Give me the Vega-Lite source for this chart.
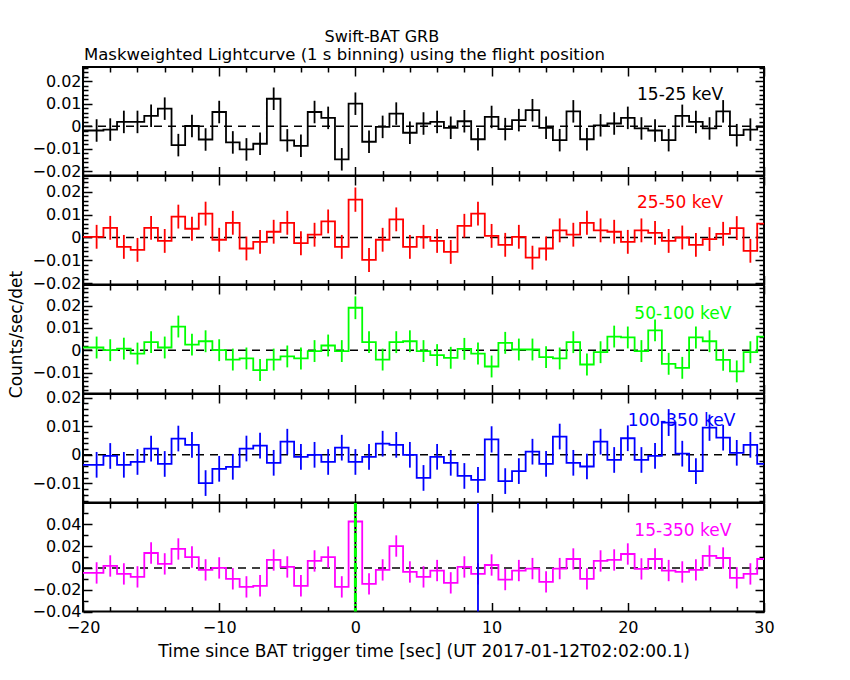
{
  "$schema": "https://vega.github.io/schema/vega-lite/v6.json",
  "autosize": {"type": "pad"},
  "padding": {"left": 6, "top": 28, "right": 5, "bottom": 5},
  "background": "white",
  "title": {"text": "Swift-BAT GRB", "anchor": "middle", "frame": "bounds", "offset": 1.5, "dx": -9, "fontSize": 16},
  "datasets": {
    "lc": [
      {"b":1,"t":-20,"r":-0.0019,"e":0.005},{"b":1,"t":-19,"r":-0.0019,"e":0.005},{"b":1,"t":-18,"r":-0.0015,"e":0.005},{"b":1,"t":-17,"r":0.0019,"e":0.005},{"b":1,"t":-16,"r":0.0019,"e":0.005},{"b":1,"t":-15,"r":0.0046,"e":0.005},{"b":1,"t":-14,"r":0.0078,"e":0.005},{"b":1,"t":-13,"r":-0.0084,"e":0.005},{"b":1,"t":-12,"r":0.0001,"e":0.005},{"b":1,"t":-11,"r":-0.0059,"e":0.005},
      {"b":1,"t":-10,"r":0.0063,"e":0.005},{"b":1,"t":-9,"r":-0.0072,"e":0.005},{"b":1,"t":-8,"r":-0.0103,"e":0.005},{"b":1,"t":-7,"r":-0.0078,"e":0.005},{"b":1,"t":-6,"r":0.0122,"e":0.005},{"b":1,"t":-5,"r":-0.0063,"e":0.005},{"b":1,"t":-4,"r":-0.0087,"e":0.005},{"b":1,"t":-3,"r":0.0063,"e":0.005},{"b":1,"t":-2,"r":0.0037,"e":0.005},{"b":1,"t":-1,"r":-0.0147,"e":0.005},
      {"b":1,"t":0,"r":0.0100,"e":0.005},{"b":1,"t":1,"r":-0.0069,"e":0.005},{"b":1,"t":2,"r":-0.0003,"e":0.005},{"b":1,"t":3,"r":0.0056,"e":0.005},{"b":1,"t":4,"r":-0.0029,"e":0.005},{"b":1,"t":5,"r":0.0012,"e":0.005},{"b":1,"t":6,"r":0.0019,"e":0.005},{"b":1,"t":7,"r":-0.0007,"e":0.005},{"b":1,"t":8,"r":0.0022,"e":0.005},{"b":1,"t":9,"r":-0.0058,"e":0.005},
      {"b":1,"t":10,"r":0.0041,"e":0.005},{"b":1,"t":11,"r":-0.0013,"e":0.005},{"b":1,"t":12,"r":0.0027,"e":0.005},{"b":1,"t":13,"r":0.0071,"e":0.005},{"b":1,"t":14,"r":-0.0007,"e":0.005},{"b":1,"t":15,"r":-0.0062,"e":0.005},{"b":1,"t":16,"r":0.0066,"e":0.005},{"b":1,"t":17,"r":-0.0058,"e":0.005},{"b":1,"t":18,"r":0.0004,"e":0.005},{"b":1,"t":19,"r":0.0012,"e":0.005},
      {"b":1,"t":20,"r":0.0037,"e":0.005},{"b":1,"t":21,"r":-0.0010,"e":0.005},{"b":1,"t":22,"r":-0.0019,"e":0.005},{"b":1,"t":23,"r":-0.0062,"e":0.005},{"b":1,"t":24,"r":0.0046,"e":0.005},{"b":1,"t":25,"r":0.0019,"e":0.005},{"b":1,"t":26,"r":-0.0010,"e":0.005},{"b":1,"t":27,"r":0.0066,"e":0.005},{"b":1,"t":28,"r":-0.0040,"e":0.005},{"b":1,"t":29,"r":-0.0015,"e":0.005},{"b":1,"t":30,"r":-0.0003,"e":0.005},

      {"b":2,"t":-20,"r":0.0003,"e":0.0052},{"b":2,"t":-19,"r":0.0003,"e":0.0052},{"b":2,"t":-18,"r":0.0042,"e":0.0052},{"b":2,"t":-17,"r":-0.0041,"e":0.0052},{"b":2,"t":-16,"r":-0.0054,"e":0.0052},{"b":2,"t":-15,"r":0.0042,"e":0.0052},{"b":2,"t":-14,"r":-0.0015,"e":0.0052},{"b":2,"t":-13,"r":0.0091,"e":0.0052},{"b":2,"t":-12,"r":0.0038,"e":0.0052},{"b":2,"t":-11,"r":0.0104,"e":0.0052},
      {"b":2,"t":-10,"r":-0.0010,"e":0.0052},{"b":2,"t":-9,"r":0.0064,"e":0.0052},{"b":2,"t":-8,"r":-0.0048,"e":0.0052},{"b":2,"t":-7,"r":-0.0019,"e":0.0052},{"b":2,"t":-6,"r":0.0025,"e":0.0052},{"b":2,"t":-5,"r":0.0064,"e":0.0052},{"b":2,"t":-4,"r":-0.0025,"e":0.0052},{"b":2,"t":-3,"r":0.0012,"e":0.0052},{"b":2,"t":-2,"r":0.0070,"e":0.0052},{"b":2,"t":-1,"r":-0.0041,"e":0.0052},
      {"b":2,"t":0,"r":0.0165,"e":0.0053},{"b":2,"t":1,"r":-0.0098,"e":0.0052},{"b":2,"t":2,"r":-0.0010,"e":0.0052},{"b":2,"t":3,"r":0.0079,"e":0.0052},{"b":2,"t":4,"r":-0.0041,"e":0.0052},{"b":2,"t":5,"r":0.0003,"e":0.0052},{"b":2,"t":6,"r":-0.0015,"e":0.0052},{"b":2,"t":7,"r":-0.0063,"e":0.0052},{"b":2,"t":8,"r":0.0051,"e":0.0052},{"b":2,"t":9,"r":0.0104,"e":0.0052},
      {"b":2,"t":10,"r":0.0007,"e":0.0052},{"b":2,"t":11,"r":-0.0032,"e":0.0052},{"b":2,"t":12,"r":0.0003,"e":0.0052},{"b":2,"t":13,"r":-0.0088,"e":0.0052},{"b":2,"t":14,"r":-0.0048,"e":0.0052},{"b":2,"t":15,"r":0.0031,"e":0.0052},{"b":2,"t":16,"r":0.0012,"e":0.0052},{"b":2,"t":17,"r":0.0064,"e":0.0052},{"b":2,"t":18,"r":0.0031,"e":0.0052},{"b":2,"t":19,"r":0.0025,"e":0.0052},
      {"b":2,"t":20,"r":-0.0019,"e":0.0052},{"b":2,"t":21,"r":0.0031,"e":0.0052},{"b":2,"t":22,"r":0.0020,"e":0.0052},{"b":2,"t":23,"r":-0.0015,"e":0.0052},{"b":2,"t":24,"r":0.0000,"e":0.0052},{"b":2,"t":25,"r":-0.0032,"e":0.0052},{"b":2,"t":26,"r":-0.0007,"e":0.0052},{"b":2,"t":27,"r":0.0016,"e":0.0052},{"b":2,"t":28,"r":0.0041,"e":0.0052},{"b":2,"t":29,"r":-0.0058,"e":0.0052},{"b":2,"t":30,"r":0.0060,"e":0.0052},

      {"b":3,"t":-20,"r":0.0012,"e":0.0049},{"b":3,"t":-19,"r":0.0012,"e":0.0049},{"b":3,"t":-18,"r":0.0000,"e":0.0049},{"b":3,"t":-17,"r":0.0007,"e":0.0049},{"b":3,"t":-16,"r":-0.0015,"e":0.0049},{"b":3,"t":-15,"r":0.0036,"e":0.0049},{"b":3,"t":-14,"r":0.0012,"e":0.0049},{"b":3,"t":-13,"r":0.0106,"e":0.0049},{"b":3,"t":-12,"r":0.0025,"e":0.0049},{"b":3,"t":-11,"r":0.0040,"e":0.0049},
      {"b":3,"t":-10,"r":0.0000,"e":0.0049},{"b":3,"t":-9,"r":-0.0042,"e":0.0049},{"b":3,"t":-8,"r":-0.0037,"e":0.0049},{"b":3,"t":-7,"r":-0.0089,"e":0.0049},{"b":3,"t":-6,"r":-0.0042,"e":0.0049},{"b":3,"t":-5,"r":-0.0028,"e":0.0049},{"b":3,"t":-4,"r":-0.0037,"e":0.0049},{"b":3,"t":-3,"r":-0.0004,"e":0.0049},{"b":3,"t":-2,"r":0.0021,"e":0.0049},{"b":3,"t":-1,"r":-0.0004,"e":0.0049},
      {"b":3,"t":0,"r":0.0190,"e":0.0051},{"b":3,"t":1,"r":0.0036,"e":0.0049},{"b":3,"t":2,"r":-0.0042,"e":0.0049},{"b":3,"t":3,"r":0.0036,"e":0.0049},{"b":3,"t":4,"r":0.0040,"e":0.0049},{"b":3,"t":5,"r":-0.0004,"e":0.0049},{"b":3,"t":6,"r":-0.0022,"e":0.0049},{"b":3,"t":7,"r":-0.0034,"e":0.0049},{"b":3,"t":8,"r":0.0006,"e":0.0049},{"b":3,"t":9,"r":-0.0015,"e":0.0049},
      {"b":3,"t":10,"r":-0.0073,"e":0.0049},{"b":3,"t":11,"r":0.0033,"e":0.0049},{"b":3,"t":12,"r":0.0003,"e":0.0049},{"b":3,"t":13,"r":0.0003,"e":0.0049},{"b":3,"t":14,"r":-0.0031,"e":0.0049},{"b":3,"t":15,"r":-0.0037,"e":0.0049},{"b":3,"t":16,"r":0.0036,"e":0.0049},{"b":3,"t":17,"r":-0.0064,"e":0.0049},{"b":3,"t":18,"r":-0.0009,"e":0.0049},{"b":3,"t":19,"r":0.0061,"e":0.0049},
      {"b":3,"t":20,"r":0.0057,"e":0.0049},{"b":3,"t":21,"r":-0.0004,"e":0.0049},{"b":3,"t":22,"r":0.0089,"e":0.0049},{"b":3,"t":23,"r":-0.0061,"e":0.0049},{"b":3,"t":24,"r":-0.0079,"e":0.0049},{"b":3,"t":25,"r":0.0057,"e":0.0049},{"b":3,"t":26,"r":0.0040,"e":0.0049},{"b":3,"t":27,"r":-0.0043,"e":0.0049},{"b":3,"t":28,"r":-0.0095,"e":0.0049},{"b":3,"t":29,"r":-0.0009,"e":0.0049},{"b":3,"t":30,"r":0.0061,"e":0.0049},

      {"b":4,"t":-20,"r":-0.0035,"e":0.0045},{"b":4,"t":-19,"r":-0.0035,"e":0.0045},{"b":4,"t":-18,"r":-0.0004,"e":0.0045},{"b":4,"t":-17,"r":-0.0035,"e":0.0045},{"b":4,"t":-16,"r":-0.0025,"e":0.0045},{"b":4,"t":-15,"r":0.0022,"e":0.0045},{"b":4,"t":-14,"r":-0.0032,"e":0.0045},{"b":4,"t":-13,"r":0.0057,"e":0.0045},{"b":4,"t":-12,"r":0.0035,"e":0.0045},{"b":4,"t":-11,"r":-0.0099,"e":0.0045},
      {"b":4,"t":-10,"r":-0.0049,"e":0.0045},{"b":4,"t":-9,"r":-0.0042,"e":0.0045},{"b":4,"t":-8,"r":0.0022,"e":0.0045},{"b":4,"t":-7,"r":0.0032,"e":0.0045},{"b":4,"t":-6,"r":-0.0028,"e":0.0045},{"b":4,"t":-5,"r":0.0046,"e":0.0045},{"b":4,"t":-4,"r":-0.0007,"e":0.0045},{"b":4,"t":-3,"r":0.0000,"e":0.0045},{"b":4,"t":-2,"r":-0.0025,"e":0.0045},{"b":4,"t":-1,"r":0.0025,"e":0.0045},
      {"b":4,"t":0,"r":-0.0025,"e":0.0045},{"b":4,"t":1,"r":-0.0007,"e":0.0045},{"b":4,"t":2,"r":0.0039,"e":0.0045},{"b":4,"t":3,"r":0.0035,"e":0.0045},{"b":4,"t":4,"r":0.0000,"e":0.0045},{"b":4,"t":5,"r":-0.0081,"e":0.0045},{"b":4,"t":6,"r":-0.0007,"e":0.0045},{"b":4,"t":7,"r":-0.0028,"e":0.0045},{"b":4,"t":8,"r":-0.0074,"e":0.0045},{"b":4,"t":9,"r":-0.0088,"e":0.0045},
      {"b":4,"t":10,"r":0.0054,"e":0.0046},{"b":4,"t":11,"r":-0.0092,"e":0.0045},{"b":4,"t":12,"r":-0.0057,"e":0.0045},{"b":4,"t":13,"r":0.0011,"e":0.0045},{"b":4,"t":14,"r":-0.0032,"e":0.0045},{"b":4,"t":15,"r":0.0064,"e":0.0045},{"b":4,"t":16,"r":-0.0028,"e":0.0045},{"b":4,"t":17,"r":-0.0041,"e":0.0045},{"b":4,"t":18,"r":0.0046,"e":0.0045},{"b":4,"t":19,"r":-0.0018,"e":0.0045},
      {"b":4,"t":20,"r":0.0058,"e":0.0045},{"b":4,"t":21,"r":-0.0018,"e":0.0045},{"b":4,"t":22,"r":-0.0004,"e":0.0045},{"b":4,"t":23,"r":0.0113,"e":0.0047},{"b":4,"t":24,"r":0.0004,"e":0.0045},{"b":4,"t":25,"r":-0.0057,"e":0.0045},{"b":4,"t":26,"r":0.0095,"e":0.0046},{"b":4,"t":27,"r":0.0060,"e":0.0045},{"b":4,"t":28,"r":0.0007,"e":0.0045},{"b":4,"t":29,"r":0.0035,"e":0.0045},{"b":4,"t":30,"r":-0.0032,"e":0.0045},

      {"b":5,"t":-20,"r":-0.0046,"e":0.0098},{"b":5,"t":-19,"r":-0.0046,"e":0.0098},{"b":5,"t":-18,"r":0.0018,"e":0.0098},{"b":5,"t":-17,"r":-0.0055,"e":0.0098},{"b":5,"t":-16,"r":-0.0082,"e":0.0098},{"b":5,"t":-15,"r":0.0137,"e":0.0098},{"b":5,"t":-14,"r":0.0037,"e":0.0098},{"b":5,"t":-13,"r":0.0174,"e":0.0098},{"b":5,"t":-12,"r":0.0100,"e":0.0098},{"b":5,"t":-11,"r":-0.0018,"e":0.0098},
      {"b":5,"t":-10,"r":0.0000,"e":0.0098},{"b":5,"t":-9,"r":-0.0100,"e":0.0098},{"b":5,"t":-8,"r":-0.0174,"e":0.0098},{"b":5,"t":-7,"r":-0.0164,"e":0.0098},{"b":5,"t":-6,"r":0.0073,"e":0.0098},{"b":5,"t":-5,"r":0.0009,"e":0.0098},{"b":5,"t":-4,"r":-0.0164,"e":0.0098},{"b":5,"t":-3,"r":0.0064,"e":0.0098},{"b":5,"t":-2,"r":0.0100,"e":0.0098},{"b":5,"t":-1,"r":-0.0174,"e":0.0098},
      {"b":5,"t":0,"r":0.0426,"e":0.0107},{"b":5,"t":1,"r":-0.0146,"e":0.0098},{"b":5,"t":2,"r":-0.0018,"e":0.0098},{"b":5,"t":3,"r":0.0201,"e":0.0098},{"b":5,"t":4,"r":-0.0037,"e":0.0098},{"b":5,"t":5,"r":-0.0082,"e":0.0098},{"b":5,"t":6,"r":-0.0024,"e":0.0098},{"b":5,"t":7,"r":-0.0137,"e":0.0098},{"b":5,"t":8,"r":0.0009,"e":0.0098},{"b":5,"t":9,"r":-0.0055,"e":0.0098},
      {"b":5,"t":10,"r":0.0027,"e":0.0098},{"b":5,"t":11,"r":-0.0107,"e":0.0098},{"b":5,"t":12,"r":-0.0024,"e":0.0098},{"b":5,"t":13,"r":-0.0006,"e":0.0098},{"b":5,"t":14,"r":-0.0128,"e":0.0098},{"b":5,"t":15,"r":-0.0006,"e":0.0098},{"b":5,"t":16,"r":0.0082,"e":0.0098},{"b":5,"t":17,"r":-0.0100,"e":0.0098},{"b":5,"t":18,"r":0.0064,"e":0.0098},{"b":5,"t":19,"r":0.0073,"e":0.0098},
      {"b":5,"t":20,"r":0.0128,"e":0.0098},{"b":5,"t":21,"r":-0.0009,"e":0.0098},{"b":5,"t":22,"r":0.0082,"e":0.0098},{"b":5,"t":23,"r":-0.0024,"e":0.0098},{"b":5,"t":24,"r":-0.0037,"e":0.0098},{"b":5,"t":25,"r":-0.0018,"e":0.0098},{"b":5,"t":26,"r":0.0110,"e":0.0098},{"b":5,"t":27,"r":0.0091,"e":0.0098},{"b":5,"t":28,"r":-0.0091,"e":0.0098},{"b":5,"t":29,"r":-0.0055,"e":0.0098},{"b":5,"t":30,"r":0.0082,"e":0.0098}
    ]
  },
  "data": {"name": "lc"},
  "spacing": 0,
  "bounds": "flush",
  "vconcat": [
    {
      "width": 681, "height": 108.5,
      "title": {"text": "Maskweighted Lightcurve (1 s binning) using the flight position", "anchor": "start", "frame": "group", "offset": -4, "dx": 1, "fontSize": 16.5},
      "layer": [
        {"data": {"values": [{}]}, "mark": {"type": "rule", "strokeDash": [8, 6], "strokeWidth": 1.5, "color": "black"}, "encoding": {"y": {"datum": 0, "type": "quantitative", "axis": null}}},
        {"transform": [{"filter": "datum.b == 1 && datum.t > -20 && datum.t < 30"}], "mark": {"type": "errorbar", "ticks": false, "thickness": 1.8, "color": "black"}, "encoding": {"x": {"field": "t", "type": "quantitative", "axis": null}, "y": {"field": "r", "type": "quantitative", "axis": null}, "yError": {"field": "e"}}},
        {"transform": [{"filter": "datum.b == 1"}], "mark": {"type": "line", "interpolate": "step", "strokeWidth": 1.8, "color": "black", "clip": true},
         "encoding": {
           "x": {"field": "t", "type": "quantitative", "scale": {"domain": [-20, 30], "nice": false, "zero": false},
                 "axis": {"orient": "bottom", "title": null, "labels": false, "values": [-20,-18,-16,-14,-12,-10,-8,-6,-4,-2,0,2,4,6,8,10,12,14,16,18,20,22,24,26,28,30], "tickSize": {"condition": {"test": "datum.value % 10 == 0", "value": -9}, "value": -5}}},
           "y": {"field": "r", "type": "quantitative", "scale": {"domain": [-0.0219, 0.0263], "nice": false, "zero": false},
                 "axis": {"orient": "left", "title": null, "labelPadding": 11, "values": [-0.02,-0.018,-0.016,-0.014,-0.012,-0.01,-0.008,-0.006,-0.004,-0.002,0,0.002,0.004,0.006,0.008,0.01,0.012,0.014,0.016,0.018,0.02,0.022,0.024,0.026],
                          "labelExpr": "abs(datum.value*100 - round(datum.value*100)) < 0.01 ? (abs(datum.value) < 1e-9 ? '0' : replace(format(datum.value, '.2f'), '-', '−')) : ''",
                          "tickSize": {"condition": {"test": "abs(datum.value*100 - round(datum.value*100)) < 0.01", "value": -9}, "value": -5}}}
         }},
        {"transform": [{"filter": "datum.b == 1"}], "mark": {"type": "point", "opacity": 0},
         "encoding": {
           "x": {"field": "t", "type": "quantitative", "axis": {"orient": "top", "title": null, "labels": false, "values": [-20,-18,-16,-14,-12,-10,-8,-6,-4,-2,0,2,4,6,8,10,12,14,16,18,20,22,24,26,28,30], "tickSize": {"condition": {"test": "datum.value % 10 == 0", "value": -9}, "value": -5}}},
           "y": {"field": "r", "type": "quantitative", "axis": {"orient": "right", "title": null, "labels": false, "values": [-0.02,-0.018,-0.016,-0.014,-0.012,-0.01,-0.008,-0.006,-0.004,-0.002,0,0.002,0.004,0.006,0.008,0.01,0.012,0.014,0.016,0.018,0.02,0.022,0.024,0.026], "tickSize": {"condition": {"test": "abs(datum.value*100 - round(datum.value*100)) < 0.01", "value": -9}, "value": -5}}}
         }},
        {"data": {"values": [{}]}, "mark": {"type": "text", "align": "right", "baseline": "middle", "fontSize": 17, "font": "DejaVu Sans", "color": "black"},
         "encoding": {"x": {"datum": 27, "type": "quantitative", "axis": null}, "y": {"datum": 0.014, "type": "quantitative", "axis": null}, "text": {"value": "15-25 keV"}}}
      ],
      "resolve": {"axis": {"x": "independent", "y": "independent"}}
    },
    {
      "width": 681, "height": 108.5,
      "layer": [
        {"data": {"values": [{}]}, "mark": {"type": "rule", "strokeDash": [8, 6], "strokeWidth": 1.5, "color": "black"}, "encoding": {"y": {"datum": 0, "type": "quantitative", "axis": null}}},
        {"transform": [{"filter": "datum.b == 2 && datum.t > -20 && datum.t < 30"}], "mark": {"type": "errorbar", "ticks": false, "thickness": 1.8, "color": "#ff0000"}, "encoding": {"x": {"field": "t", "type": "quantitative", "axis": null}, "y": {"field": "r", "type": "quantitative", "axis": null}, "yError": {"field": "e"}}},
        {"transform": [{"filter": "datum.b == 2"}], "mark": {"type": "line", "interpolate": "step", "strokeWidth": 1.8, "color": "#ff0000", "clip": true},
         "encoding": {
           "x": {"field": "t", "type": "quantitative", "scale": {"domain": [-20, 30], "nice": false, "zero": false},
                 "axis": {"orient": "bottom", "title": null, "labels": false, "values": [-20,-18,-16,-14,-12,-10,-8,-6,-4,-2,0,2,4,6,8,10,12,14,16,18,20,22,24,26,28,30], "tickSize": {"condition": {"test": "datum.value % 10 == 0", "value": -9}, "value": -5}}},
           "y": {"field": "r", "type": "quantitative", "scale": {"domain": [-0.0205, 0.0268], "nice": false, "zero": false},
                 "axis": {"orient": "left", "title": null, "labelPadding": 11, "values": [-0.02,-0.018,-0.016,-0.014,-0.012,-0.01,-0.008,-0.006,-0.004,-0.002,0,0.002,0.004,0.006,0.008,0.01,0.012,0.014,0.016,0.018,0.02,0.022,0.024,0.026],
                          "labelExpr": "abs(datum.value*100 - round(datum.value*100)) < 0.01 ? (abs(datum.value) < 1e-9 ? '0' : replace(format(datum.value, '.2f'), '-', '−')) : ''",
                          "tickSize": {"condition": {"test": "abs(datum.value*100 - round(datum.value*100)) < 0.01", "value": -9}, "value": -5}}}
         }},
        {"transform": [{"filter": "datum.b == 2"}], "mark": {"type": "point", "opacity": 0},
         "encoding": {
           "x": {"field": "t", "type": "quantitative", "axis": {"orient": "top", "title": null, "labels": false, "values": [-20,-18,-16,-14,-12,-10,-8,-6,-4,-2,0,2,4,6,8,10,12,14,16,18,20,22,24,26,28,30], "tickSize": {"condition": {"test": "datum.value % 10 == 0", "value": -9}, "value": -5}}},
           "y": {"field": "r", "type": "quantitative", "axis": {"orient": "right", "title": null, "labels": false, "values": [-0.02,-0.018,-0.016,-0.014,-0.012,-0.01,-0.008,-0.006,-0.004,-0.002,0,0.002,0.004,0.006,0.008,0.01,0.012,0.014,0.016,0.018,0.02,0.022,0.024,0.026], "tickSize": {"condition": {"test": "abs(datum.value*100 - round(datum.value*100)) < 0.01", "value": -9}, "value": -5}}}
         }},
        {"data": {"values": [{}]}, "mark": {"type": "text", "align": "right", "baseline": "middle", "fontSize": 17, "font": "DejaVu Sans", "color": "#ff0000"},
         "encoding": {"x": {"datum": 27, "type": "quantitative", "axis": null}, "y": {"datum": 0.015, "type": "quantitative", "axis": null}, "text": {"value": "25-50 keV"}}}
      ],
      "resolve": {"axis": {"x": "independent", "y": "independent"}}
    },
    {
      "width": 681, "height": 108.5,
      "layer": [
        {"data": {"values": [{}]}, "mark": {"type": "rule", "strokeDash": [8, 6], "strokeWidth": 1.5, "color": "black"}, "encoding": {"y": {"datum": 0, "type": "quantitative", "axis": null}}},
        {"transform": [{"filter": "datum.b == 3 && datum.t > -20 && datum.t < 30"}], "mark": {"type": "errorbar", "ticks": false, "thickness": 1.8, "color": "#00ff00"}, "encoding": {"x": {"field": "t", "type": "quantitative", "axis": null}, "y": {"field": "r", "type": "quantitative", "axis": null}, "yError": {"field": "e"}}},
        {"transform": [{"filter": "datum.b == 3"}], "mark": {"type": "line", "interpolate": "step", "strokeWidth": 1.8, "color": "#00ff00", "clip": true},
         "encoding": {
           "x": {"field": "t", "type": "quantitative", "scale": {"domain": [-20, 30], "nice": false, "zero": false},
                 "axis": {"orient": "bottom", "title": null, "labels": false, "values": [-20,-18,-16,-14,-12,-10,-8,-6,-4,-2,0,2,4,6,8,10,12,14,16,18,20,22,24,26,28,30], "tickSize": {"condition": {"test": "datum.value % 10 == 0", "value": -9}, "value": -5}}},
           "y": {"field": "r", "type": "quantitative", "scale": {"domain": [-0.0194, 0.0292], "nice": false, "zero": false},
                 "axis": {"orient": "left", "title": "Counts/sec/det", "titleFontSize": 17, "titleX": -66.5, "titleY": 49, "titleAngle": 270, "titleBaseline": "middle", "titleAlign": "center", "labelPadding": 11, "values": [-0.018,-0.016,-0.014,-0.012,-0.01,-0.008,-0.006,-0.004,-0.002,0,0.002,0.004,0.006,0.008,0.01,0.012,0.014,0.016,0.018,0.02,0.022,0.024,0.026,0.028],
                          "labelExpr": "abs(datum.value*100 - round(datum.value*100)) < 0.01 ? (abs(datum.value) < 1e-9 ? '0' : replace(format(datum.value, '.2f'), '-', '−')) : ''",
                          "tickSize": {"condition": {"test": "abs(datum.value*100 - round(datum.value*100)) < 0.01", "value": -9}, "value": -5}}}
         }},
        {"transform": [{"filter": "datum.b == 3"}], "mark": {"type": "point", "opacity": 0},
         "encoding": {
           "x": {"field": "t", "type": "quantitative", "axis": {"orient": "top", "title": null, "labels": false, "values": [-20,-18,-16,-14,-12,-10,-8,-6,-4,-2,0,2,4,6,8,10,12,14,16,18,20,22,24,26,28,30], "tickSize": {"condition": {"test": "datum.value % 10 == 0", "value": -9}, "value": -5}}},
           "y": {"field": "r", "type": "quantitative", "axis": {"orient": "right", "title": null, "labels": false, "values": [-0.018,-0.016,-0.014,-0.012,-0.01,-0.008,-0.006,-0.004,-0.002,0,0.002,0.004,0.006,0.008,0.01,0.012,0.014,0.016,0.018,0.02,0.022,0.024,0.026,0.028], "tickSize": {"condition": {"test": "abs(datum.value*100 - round(datum.value*100)) < 0.01", "value": -9}, "value": -5}}}
         }},
        {"data": {"values": [{}]}, "mark": {"type": "text", "align": "right", "baseline": "middle", "fontSize": 17, "font": "DejaVu Sans", "color": "#00ff00"},
         "encoding": {"x": {"datum": 27.6, "type": "quantitative", "axis": null}, "y": {"datum": 0.0164, "type": "quantitative", "axis": null}, "text": {"value": "50-100 keV"}}}
      ],
      "resolve": {"axis": {"x": "independent", "y": "independent"}}
    },
    {
      "width": 681, "height": 108.5,
      "layer": [
        {"data": {"values": [{}]}, "mark": {"type": "rule", "strokeDash": [8, 6], "strokeWidth": 1.5, "color": "black"}, "encoding": {"y": {"datum": 0, "type": "quantitative", "axis": null}}},
        {"transform": [{"filter": "datum.b == 4 && datum.t > -20 && datum.t < 30"}], "mark": {"type": "errorbar", "ticks": false, "thickness": 1.8, "color": "#0000ff"}, "encoding": {"x": {"field": "t", "type": "quantitative", "axis": null}, "y": {"field": "r", "type": "quantitative", "axis": null}, "yError": {"field": "e"}}},
        {"transform": [{"filter": "datum.b == 4"}], "mark": {"type": "line", "interpolate": "step", "strokeWidth": 1.8, "color": "#0000ff", "clip": true},
         "encoding": {
           "x": {"field": "t", "type": "quantitative", "scale": {"domain": [-20, 30], "nice": false, "zero": false},
                 "axis": {"orient": "bottom", "title": null, "labels": false, "values": [-20,-18,-16,-14,-12,-10,-8,-6,-4,-2,0,2,4,6,8,10,12,14,16,18,20,22,24,26,28,30], "tickSize": {"condition": {"test": "datum.value % 10 == 0", "value": -9}, "value": -5}}},
           "y": {"field": "r", "type": "quantitative", "scale": {"domain": [-0.0167, 0.0213], "nice": false, "zero": false},
                 "axis": {"orient": "left", "title": null, "labelPadding": 11, "values": [-0.016,-0.014,-0.012,-0.01,-0.008,-0.006,-0.004,-0.002,0,0.002,0.004,0.006,0.008,0.01,0.012,0.014,0.016,0.018,0.02],
                          "labelExpr": "abs(datum.value*100 - round(datum.value*100)) < 0.01 ? (abs(datum.value) < 1e-9 ? '0' : replace(format(datum.value, '.2f'), '-', '−')) : ''",
                          "tickSize": {"condition": {"test": "abs(datum.value*100 - round(datum.value*100)) < 0.01", "value": -9}, "value": -5}}}
         }},
        {"transform": [{"filter": "datum.b == 4"}], "mark": {"type": "point", "opacity": 0},
         "encoding": {
           "x": {"field": "t", "type": "quantitative", "axis": {"orient": "top", "title": null, "labels": false, "values": [-20,-18,-16,-14,-12,-10,-8,-6,-4,-2,0,2,4,6,8,10,12,14,16,18,20,22,24,26,28,30], "tickSize": {"condition": {"test": "datum.value % 10 == 0", "value": -9}, "value": -5}}},
           "y": {"field": "r", "type": "quantitative", "axis": {"orient": "right", "title": null, "labels": false, "values": [-0.016,-0.014,-0.012,-0.01,-0.008,-0.006,-0.004,-0.002,0,0.002,0.004,0.006,0.008,0.01,0.012,0.014,0.016,0.018,0.02], "tickSize": {"condition": {"test": "abs(datum.value*100 - round(datum.value*100)) < 0.01", "value": -9}, "value": -5}}}
         }},
        {"data": {"values": [{}]}, "mark": {"type": "text", "align": "right", "baseline": "middle", "fontSize": 17, "font": "DejaVu Sans", "color": "#0000ff"},
         "encoding": {"x": {"datum": 27.9, "type": "quantitative", "axis": null}, "y": {"datum": 0.0118, "type": "quantitative", "axis": null}, "text": {"value": "100-350 keV"}}}
      ],
      "resolve": {"axis": {"x": "independent", "y": "independent"}}
    },
    {
      "width": 681, "height": 108.5,
      "layer": [
        {"data": {"values": [{}]}, "mark": {"type": "rule", "strokeDash": [8, 6], "strokeWidth": 1.5, "color": "black"}, "encoding": {"y": {"datum": 0, "type": "quantitative", "axis": null}}},
        {"transform": [{"filter": "datum.b == 5 && datum.t > -20 && datum.t < 30"}], "mark": {"type": "errorbar", "ticks": false, "thickness": 1.8, "color": "#ff00ff"}, "encoding": {"x": {"field": "t", "type": "quantitative", "axis": null}, "y": {"field": "r", "type": "quantitative", "axis": null}, "yError": {"field": "e"}}},
        {"transform": [{"filter": "datum.b == 5"}], "mark": {"type": "line", "interpolate": "step", "strokeWidth": 1.8, "color": "#ff00ff", "clip": true},
         "encoding": {
           "x": {"field": "t", "type": "quantitative", "scale": {"domain": [-20, 30], "nice": false, "zero": false},
                 "axis": {"orient": "bottom", "title": "Time since BAT trigger time [sec] (UT 2017-01-12T02:02:00.1)", "titleFontSize": 17, "titlePadding": 4, "labelPadding": 17, "values": [-20,-18,-16,-14,-12,-10,-8,-6,-4,-2,0,2,4,6,8,10,12,14,16,18,20,22,24,26,28,30],
                          "labelExpr": "datum.value % 10 == 0 ? replace(format(datum.value, 'd'), '-', '−') : ''",
                          "tickSize": {"condition": {"test": "datum.value % 10 == 0", "value": -9}, "value": -5}}},
           "y": {"field": "r", "type": "quantitative", "scale": {"domain": [-0.04, 0.0596], "nice": false, "zero": false},
                 "axis": {"orient": "left", "title": null, "labelPadding": 11, "values": [-0.04,-0.03,-0.02,-0.01,0,0.01,0.02,0.03,0.04,0.05],
                          "labelExpr": "abs(datum.value*50 - round(datum.value*50)) < 0.01 ? (abs(datum.value) < 1e-9 ? '0' : replace(format(datum.value, '.2f'), '-', '−')) : ''",
                          "tickSize": {"condition": {"test": "abs(datum.value*50 - round(datum.value*50)) < 0.01", "value": -9}, "value": -5}}}
         }},
        {"transform": [{"filter": "datum.b == 5"}], "mark": {"type": "point", "opacity": 0},
         "encoding": {
           "x": {"field": "t", "type": "quantitative", "axis": {"orient": "top", "title": null, "labels": false, "values": [-20,-18,-16,-14,-12,-10,-8,-6,-4,-2,0,2,4,6,8,10,12,14,16,18,20,22,24,26,28,30], "tickSize": {"condition": {"test": "datum.value % 10 == 0", "value": -9}, "value": -5}}},
           "y": {"field": "r", "type": "quantitative", "axis": {"orient": "right", "title": null, "labels": false, "values": [-0.04,-0.03,-0.02,-0.01,0,0.01,0.02,0.03,0.04,0.05], "tickSize": {"condition": {"test": "abs(datum.value*50 - round(datum.value*50)) < 0.01", "value": -9}, "value": -5}}}
         }},
        {"data": {"values": [{}]}, "mark": {"type": "rule", "strokeWidth": 1.8, "color": "#0000ff"}, "encoding": {"x": {"datum": 9, "type": "quantitative", "axis": null}}},
        {"data": {"values": [{}]}, "mark": {"type": "rule", "strokeWidth": 2, "color": "black"}, "encoding": {"x": {"datum": 0, "type": "quantitative", "axis": null}}},
        {"data": {"values": [{}]}, "mark": {"type": "rule", "strokeWidth": 3, "color": "#00ff00", "strokeDash": [9, 2, 2, 2]}, "encoding": {"x": {"datum": 0, "type": "quantitative", "axis": null}}},
        {"data": {"values": [{}]}, "mark": {"type": "text", "align": "right", "baseline": "middle", "fontSize": 17, "font": "DejaVu Sans", "color": "#ff00ff"},
         "encoding": {"x": {"datum": 27.6, "type": "quantitative", "axis": null}, "y": {"datum": 0.0335, "type": "quantitative", "axis": null}, "text": {"value": "15-350 keV"}}}
      ],
      "resolve": {"axis": {"x": "independent", "y": "independent"}}
    }
  ],
  "config": {
    "view": {"stroke": "black", "strokeWidth": 2},
    "axis": {"domain": false, "grid": false, "labelFont": "DejaVu Sans", "labelFontSize": 16, "labelColor": "black", "tickColor": "black", "tickWidth": 1.5, "titleFont": "DejaVu Sans", "titleFontSize": 16, "titleFontWeight": "normal", "titleColor": "black", "labelOverlap": false, "labelFlush": false, "labelBound": false},
    "title": {"font": "DejaVu Sans", "fontSize": 16, "fontWeight": "normal", "color": "black"},
    "text": {"font": "DejaVu Sans"}
  }
}
